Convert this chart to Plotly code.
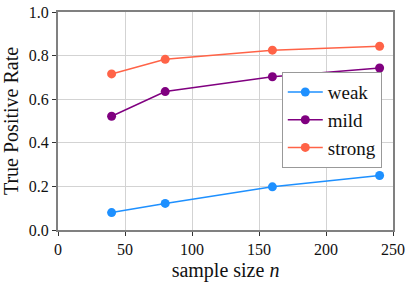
import plotly.graph_objects as go

sample_sizes = [40, 80, 160, 240]
weak = [0.080, 0.122, 0.198, 0.250]
mild = [0.522, 0.635, 0.703, 0.743]
strong = [0.716, 0.783, 0.825, 0.843]

series = [("weak", weak, "#1E90FF"), ("mild", mild, "#800080"), ("strong", strong, "#FF6347")]

fig = go.Figure()
for name, vals, col in series:
    fig.add_trace(go.Scatter(x=sample_sizes, y=vals, name=name, mode="lines+markers",
                             line=dict(color=col, width=1.5), marker=dict(color=col, size=9)))

font = "Liberation Serif, Times New Roman, serif"
axis_common = dict(showline=True, linecolor="#808080", linewidth=2, mirror=True,
                   showgrid=True, gridcolor="#d3d3d3", gridwidth=1, zeroline=False,
                   automargin=False,
                   ticks="outside", ticklen=4, tickcolor="#333")
fig.update_xaxes(range=[0, 250], tickvals=[0, 50, 100, 150, 200, 250],
                 tickfont=dict(size=16, color="#111", family=font),
                 title=dict(text="sample size <i>n</i>", font=dict(size=20, color="#111", family=font), standoff=6),
                 **axis_common)
fig.update_yaxes(range=[0, 1.0], tickvals=[0, 0.2, 0.4, 0.6, 0.8, 1.0], tickformat=".1f",
                 tickfont=dict(size=16, color="#111", family=font),
                 title=dict(text="True Positive Rate", font=dict(size=20, color="#111", family=font), standoff=6),
                 **axis_common)
fig.update_layout(width=412, height=286, margin=dict(l=58, r=19, t=12, b=56),
                  plot_bgcolor="white", paper_bgcolor="white",
                  font=dict(family=font, color="#111", size=16),
                  legend=dict(x=0.668, y=0.724, xanchor="left", yanchor="top",
                              bgcolor="white", bordercolor="#999", borderwidth=1,
                              font=dict(size=19, family=font, color="#111"),
                              itemwidth=35, tracegroupgap=0))
fig.write_html("out.html", config={"displayModeBar": False},
               post_script="document.body.style.margin='0';")
